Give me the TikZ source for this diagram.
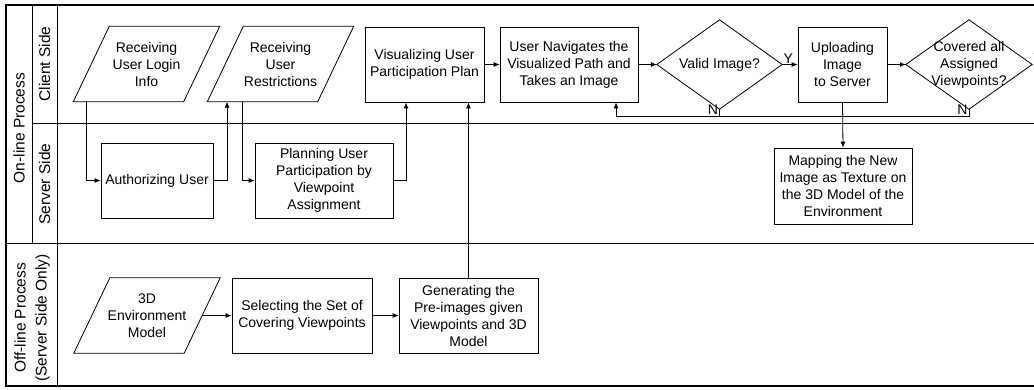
\documentclass[tikz,border=0pt]{standalone}
\usepackage{fontspec}
\setmainfont{Liberation Sans}
\usetikzlibrary{
    arrows.meta,
    calc,
    positioning
}

\begin{document}
\begin{tikzpicture}[x=1pt, y=-1pt,
    font=\fontsize{14}{17}\selectfont,
    >={Latex[length=6pt,width=5pt]},
    process/.style={draw, line width=0.8pt, align=center, inner sep=2pt},
    io/.style={align=center, inner sep=0pt, minimum width=110pt, minimum height=75pt},
    decision/.style={align=center, inner sep=0pt, minimum width=125pt, minimum height=89pt},
    outline/.style={line width=0.8pt},
    flow/.style={->, line width=0.8pt},
    line/.style={line width=0.8pt},
    tag/.style={inner sep=1pt},
    lane/.style={rotate=90, align=center, font=\fontsize{15.5}{21}\selectfont},
    frame/.style={line width=2pt},
    divider/.style={line width=0.9pt}
]

\useasboundingbox (0,0) rectangle (1034,389);

% swimlanes
\draw[frame] (1034,5) -- (6,5) -- (6,386) -- (1034,386);
\draw[divider] (32,5) -- (32,243);
\draw[divider] (57,5) -- (57,386);
\draw[divider] (32,123) -- (1034,123);
\draw[divider] (6,243) -- (1034,243);

\node[lane] (online) at (19,128) {On-line Process};
\node[lane] (client) at (44.5,64) {Client Side};
\node[lane] (server) at (44.5,184) {Server Side};
\node[lane] (offline) at (32,318) {Off-line Process\\(Server Side Only)};

% client side
\node[io] (login) at (146.5,64) {Receiving\\User Login\\Info};
\node[io] (restr) at (280.5,64) {Receiving\\User\\Restrictions};
\node[process, minimum width=119pt, minimum height=75pt] (visual) at (424.5,64.5) {Visualizing User\\Participation Plan};
\node[process, minimum width=138pt, minimum height=75pt] (navig) at (569,64.5) {User Navigates the\\Visualized Path and\\Takes an Image};
\node[decision] (valid) at (719.5,64.5) {Valid Image?};
\node[process, minimum width=89pt, minimum height=75pt] (upload) at (842.5,64.5) {Uploading\\Image\\to Server};
\node[decision, minimum width=126pt] (covered) at (969,64.5) {Covered all\\Assigned\\Viewpoints?};

% server side
\node[process, minimum width=112pt, minimum height=75pt] (auth) at (157,180.5) {Authorizing User};
\node[process, minimum width=138pt, minimum height=75pt] (plan) at (324,180.5) {Planning User\\Participation by\\Viewpoint\\Assignment};
\node[process, minimum width=138pt, minimum height=76pt] (mapping) at (843,186) {Mapping the New\\Image as Texture on\\the 3D Model of the\\Environment};

% off-line
\node[io] (env) at (147,315.5) {3D\\Environment\\Model};
\node[process, minimum width=140pt, minimum height=75pt] (select) at (302,315.5) {Selecting the Set of\\Covering Viewpoints};
\node[process, minimum width=139pt, minimum height=75pt] (generate) at (468.5,315.5) {Generating the\\Pre-images given\\Viewpoints and 3D\\Model};

% slanted input boxes
\foreach \n in {login,restr,env} {
    \draw[outline] ($(\n.south west)+(-18,0)$) -- ($(\n.north west)+(18,0)$)
        -- ($(\n.north east)+(18,0)$) -- ($(\n.south east)+(-18,0)$) -- cycle;
}
% decisions
\foreach \n in {valid,covered} {
    \draw[outline] (\n.west) -- (\n.north) -- (\n.east) -- (\n.south) -- cycle;
}

% flows
\draw[flow] (login.south -| 86,0) |- (auth.west);
\draw[flow] (auth.east) -| (restr.south -| 227,0);
\draw[flow] (restr.south -| 242,0) |- (plan.west);
\draw[flow] (plan.east) -| (visual.south -| 406,0);
\draw[flow] (generate.north) -- (generate.north |- visual.south);
\draw[flow] (visual.east) -- (navig.west);
\draw[flow] (navig.east) -- (valid.west);
\draw[flow] (valid.east) -- node[tag, pos=0, anchor=south west] {Y} (upload.west);
\draw[flow] (upload.east) -- (covered.west);
\draw[flow] (upload.south) -- (mapping.north);
\draw[flow] (valid.south) -- ++(0,7) node[tag, anchor=south east] {N} -| (navig.south -| 616,0);
\draw[line] (covered.south) -- ++(0,7) node[tag, anchor=south east] {N} -- ($(valid.south)+(0,7)$);
\node[tag, anchor=south west] (done) at (covered.east) {Y};
\draw[flow] (env.east) -- (select.west);
\draw[flow] (select.east) -- (generate.west);

\end{tikzpicture}
\end{document}
